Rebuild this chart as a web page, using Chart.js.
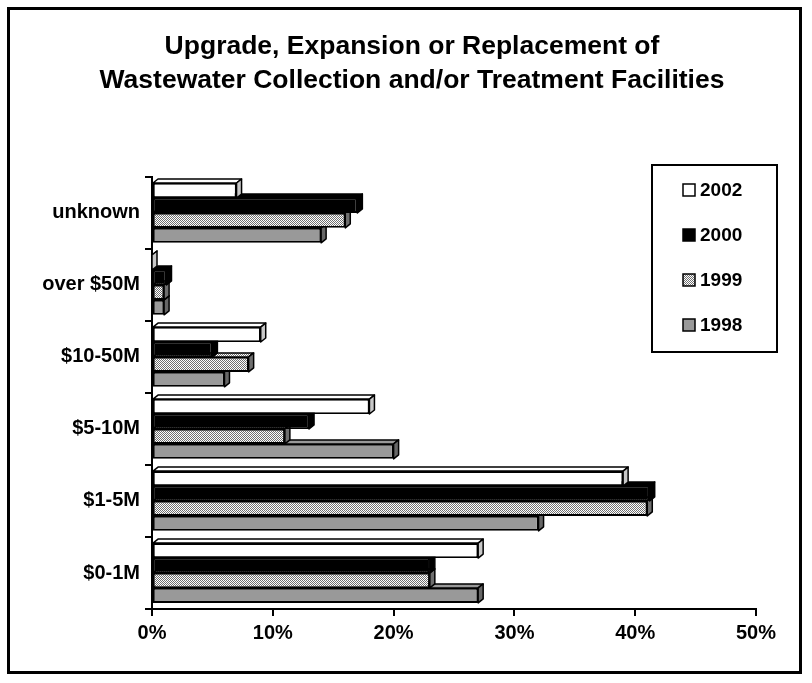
<!DOCTYPE html>
<html>
<head>
<meta charset="utf-8">
<script src="https://cdn.jsdelivr.net/npm/chart.js@4.4.1/dist/chart.umd.min.js"></script>
<style>
  html, body { margin: 0; padding: 0; background: #fff; }
  #wrap { width: 812px; height: 683px; }
</style>
</head>
<body>
<div id="wrap"><canvas id="facilitiesChart" width="812" height="683"></canvas></div>
<script>
// Data (percent of responses)
const categories = ['unknown', 'over $50M', '$10-50M', '$5-10M', '$1-5M', '$0-1M'];
const years = ['2002', '2000', '1999', '1998'];
const values2002 = [7, 0, 9, 18, 39, 27];
const values2000 = [17, 1.2, 5, 13, 41.2, 23];
const values1999 = [16, 1, 8, 11, 41, 23];
const values1998 = [14, 1, 6, 20, 32, 27];
const xTicks = [0, 10, 20, 30, 40, 50];

const FONT = '"Liberation Sans", Arial, sans-serif';

// fine mesh used by the 1999 series
function makeHatch() {
    const c = document.createElement('canvas');
    c.width = 2; c.height = 2;
    const g = c.getContext('2d');
    g.fillStyle = '#ffffff';
    g.fillRect(0, 0, 2, 2);
    g.fillStyle = '#707070';
    g.fillRect(0, 0, 1, 1);
    g.fillRect(1, 1, 1, 1);
    return g.createPattern(c, 'repeat');
}
const hatch = makeHatch();

// front and side colours per series
const fronts = ['#ffffff', '#000000', hatch, '#999999'];
const sides = ['#c8c8c8', '#000000', '#6e6e6e', '#666666'];

// outer frame
const framePlugin = {
    id: 'frame',
    afterLayout(chart) {
        // centre the title over the whole frame, not just the padded area
        if (chart.titleBlock) {
            chart.titleBlock.left = 12;
            chart.titleBlock.right = 812;
        }
    },
    beforeDraw(chart) {
        const c = chart.ctx;
        c.save();
        c.fillStyle = '#fff';
        c.fillRect(0, 0, chart.width, chart.height);
        c.lineWidth = 3;
        c.strokeStyle = '#000';
        c.strokeRect(8.5, 8.5, 792, 664);
        c.restore();
    }
};

// fake 3D depth: top and right faces behind every bar
const depthPlugin = {
    id: 'depth',
    beforeDatasetsDraw(chart) {
        const c = chart.ctx;
        const dx = 5, dy = 4;
        c.save();
        c.lineWidth = 1.5;
        c.strokeStyle = '#000';
        c.lineJoin = 'round';
        for (let d = chart.data.datasets.length - 1; d >= 0; d--) {
            const meta = chart.getDatasetMeta(d);
            meta.data.forEach(bar => {
                const top = bar.y - bar.height / 2;
                const bottom = bar.y + bar.height / 2;
                const x0 = bar.base, x1 = bar.x;
                // top face
                c.beginPath();
                c.moveTo(x0, top);
                c.lineTo(x0 + dx, top - dy);
                c.lineTo(x1 + dx, top - dy);
                c.lineTo(x1, top);
                c.closePath();
                c.fillStyle = fronts[d];
                c.fill();
                c.stroke();
                // right face
                c.beginPath();
                c.moveTo(x1, top);
                c.lineTo(x1 + dx, top - dy);
                c.lineTo(x1 + dx, bottom - dy);
                c.lineTo(x1, bottom);
                c.closePath();
                c.fillStyle = sides[d];
                c.fill();
                c.stroke();
            });
        }
        c.restore();
    }
};

// boxed legend on the right
const legendBoxPlugin = {
    id: 'legendBox',
    afterDraw(chart) {
        const c = chart.ctx;
        const bx = 652, by = 165, bw = 125, bh = 187;
        c.save();
        c.fillStyle = '#fff';
        c.fillRect(bx, by, bw, bh);
        c.lineWidth = 2;
        c.strokeStyle = '#000';
        c.strokeRect(bx, by, bw, bh);
        c.font = 'bold 19px ' + FONT;
        c.textBaseline = 'middle';
        chart.data.datasets.forEach((ds, i) => {
            const cy = 190 + i * 45;
            c.fillStyle = ds.backgroundColor;
            c.fillRect(683, cy - 6, 12, 12);
            c.lineWidth = 1.5;
            c.strokeRect(683, cy - 6, 12, 12);
            c.fillStyle = '#000';
            c.fillText(ds.label, 700, cy + 1);
        });
        c.restore();
    }
};

const ctx = document.getElementById('facilitiesChart').getContext('2d');

const facilitiesChart = new Chart(ctx, {
    type: 'bar',
    data: {
        labels: categories,
        datasets: [
            { label: years[0], data: values2002, backgroundColor: fronts[0] },
            { label: years[1], data: values2000, backgroundColor: fronts[1] },
            { label: years[2], data: values1999, backgroundColor: fronts[2] },
            { label: years[3], data: values1998, backgroundColor: fronts[3] }
        ].map(ds => Object.assign(ds, {
            borderColor: '#000',
            borderWidth: 1.8,
            borderSkipped: false,
            categoryPercentage: 0.83,
            barPercentage: 1
        }))
    },
    options: {
        indexAxis: 'y',
        responsive: false,
        animation: false,
        layout: { padding: { left: 0, right: 56, top: 0, bottom: 0 } },
        scales: {
            x: {
                min: 0,
                max: 50,
                afterBuildTicks: scale => { scale.ticks = xTicks.map(v => ({ value: v })); },
                ticks: {
                    callback: v => v + '%',
                    color: '#000',
                    font: { family: FONT, size: 20, weight: 'bold' },
                    padding: 5
                },
                grid: { drawOnChartArea: false, color: '#000', lineWidth: 2, tickLength: 7 },
                border: { color: '#000', width: 2 },
                afterFit: scale => { scale.height = 683 - 609; }
            },
            y: {
                ticks: {
                    color: '#000',
                    font: { family: FONT, size: 20, weight: 'bold' },
                    padding: 5,
                    autoSkip: false
                },
                grid: { drawOnChartArea: false, color: '#000', lineWidth: 2, tickLength: 7, offset: true },
                border: { color: '#000', width: 2 },
                afterFit: scale => { scale.width = 152; }
            }
        },
        plugins: {
            legend: { display: false },
            tooltip: { enabled: false },
            title: {
                display: true,
                text: ['Upgrade, Expansion or Replacement of', 'Wastewater Collection and/or Treatment Facilities'],
                color: '#000',
                font: { family: FONT, size: 26.5, weight: 'bold', lineHeight: 1.3 },
                padding: { top: 29, bottom: 79 }
            }
        }
    },
    plugins: [framePlugin, depthPlugin, legendBoxPlugin]
});
</script>
</body>
</html>
